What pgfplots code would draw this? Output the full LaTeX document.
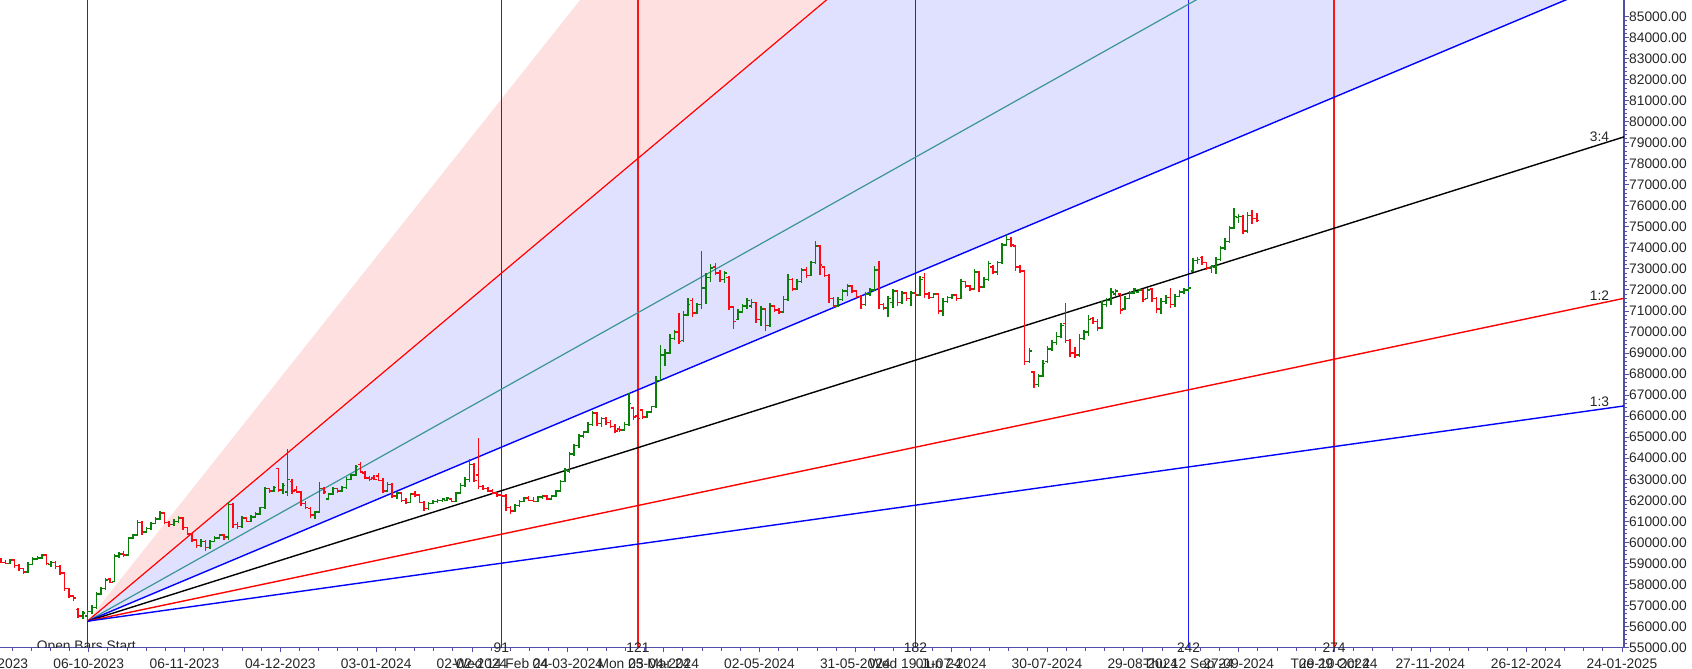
\documentclass[border=0pt]{standalone}
\usepackage{fontspec}
\setmainfont{Liberation Sans}
\usepackage{pgfplots}
\usepackage{pgfplotstable}
\pgfplotsset{compat=1.18}
\definecolor{upc}{RGB}{10,128,10}
\definecolor{dnc}{RGB}{250,10,20}
\definecolor{fanpink}{RGB}{255,224,224}
\definecolor{fanlav}{RGB}{224,224,255}
\definecolor{fanteal}{RGB}{60,150,150}
\definecolor{axblue}{RGB}{80,80,170}
\definecolor{vblue}{RGB}{30,30,255}
\definecolor{vred}{RGB}{255,20,20}
\pgfplotstableread{
i O H L C
-19 59200 59250 59000 59050
-18 59050 59150 58950 59000
-17 59000 59200 58950 59150
-16 59150 59200 58800 58900
-15 58900 58950 58650 58750
-14 58750 58800 58500 58600
-13 58600 59050 58550 58950
-12 58950 59300 58900 59200
-11 59200 59350 59150 59250
-10 59250 59450 59200 59400
-9 59400 59450 58900 59000
-8 58950 59100 58850 59050
-7 59050 59100 58750 58850
-6 58850 58900 58450 58550
-5 58550 58600 57700 57800
-4 57800 57850 57350 57450
-3 57450 57500 57200 57350
-2 56800 56900 56400 56500
-1 56500 56750 56350 56650
0 56500 56800 56250 56700
1 56700 57000 56600 56900
2 56900 57650 56850 57550
3 57550 57900 57500 57800
4 57800 58300 57750 58200
5 58250 58300 58050 58100
6 58150 59450 58100 59350
7 59350 59550 59250 59450
8 59450 59600 59300 59400
9 59400 60250 59350 60200
10 60200 60400 60150 60350
11 60350 61050 60300 60950
12 60950 61000 60350 60500
13 60500 60750 60450 60650
14 60650 60950 60600 60900
15 60900 61200 60850 61100
16 61100 61480 61050 61400
17 61400 61450 60850 60950
18 60950 61000 60750 60850
19 60850 61100 60800 61000
20 61000 61250 60900 61150
21 61150 61200 60600 60700
22 60700 60750 60350 60400
23 60400 60450 60000 60100
24 60100 60150 59750 59850
25 59850 60150 59800 60050
26 60050 60100 59600 59750
27 59750 60100 59700 60050
28 60050 60300 60000 60200
29 60200 60400 60150 60350
30 60350 60400 60100 60250
31 60250 61900 60100 61800
32 61800 61850 60700 60850
33 60850 60950 60650 60750
34 60750 61250 60700 61150
35 61150 61200 60950 61000
36 61000 61300 60950 61200
37 61200 61450 61150 61350
38 61350 61700 61300 61650
39 61650 62650 61600 62550
40 62550 62600 62350 62450
41 62450 62700 62400 62600
42 63500 63550 62400 62500
43 62500 62800 62300 62700
44 62400 64450 62200 63000
45 62900 63000 62300 62450
46 62500 62700 62350 62400
47 62400 62450 61750 61850
48 61850 61950 61600 61650
49 61600 61700 61150 61300
50 61300 61500 61100 61450
51 61450 62850 61400 62550
52 62550 62650 62300 62400
53 62050 62350 62000 62300
54 62300 62650 62250 62550
55 62550 62600 62350 62450
56 62450 62700 62400 62600
57 62600 63100 62550 63000
58 63000 63250 62950 63200
59 63200 63700 63150 63600
60 63700 63800 63300 63350
61 63300 63400 63000 63050
62 63050 63150 62900 63000
63 63050 63200 62950 63000
64 63150 63300 62900 62950
65 62950 63050 62350 62450
66 62450 62850 62400 62750
67 62750 62800 62100 62200
68 62200 62400 62050 62350
69 62350 62400 61900 62000
70 62000 62100 61800 61900
71 61900 62350 61850 62300
72 62300 62450 62150 62250
73 62250 62300 61850 61900
74 61900 61950 61500 61600
75 61600 61900 61550 61850
76 61850 62000 61800 61950
77 61950 62050 61850 62000
78 62000 62100 61900 62050
79 62000 62150 61950 62100
80 62050 62100 61900 61950
81 61950 62400 61900 62350
82 62350 62800 62300 62700
83 62700 63100 62650 63000
84 63000 63950 62850 63700
85 63700 63750 62850 62950
86 63200 64950 62550 62650
87 62650 62750 62500 62550
88 62550 62650 62400 62450
89 62450 62550 62300 62350
90 62350 62400 62150 62250
91 62250 62350 62100 62200
92 62200 62300 61500 61650
93 61650 61750 61350 61500
94 61500 61800 61450 61750
95 61750 62000 61700 61950
96 61950 62150 61900 62100
97 62100 62200 61950 62000
98 62000 62150 61900 61950
99 61950 62200 61900 62150
100 62150 62250 62050 62200
101 62200 62250 62000 62050
102 62050 62250 62000 62200
103 62200 62500 62150 62450
104 62450 62950 62400 62900
105 62900 63550 62850 63450
106 63400 64300 63300 64200
107 64200 64700 64100 64600
108 64600 65150 64500 65050
109 65050 65300 64950 65250
110 65250 65700 65200 65600
111 65600 66250 65550 66150
112 66150 66200 65550 65650
113 65650 65950 65500 65900
114 65900 65950 65600 65700
115 65700 65800 65450 65500
116 65500 65650 65200 65300
117 65400 65550 65250 65350
118 65350 65700 65300 65600
119 65600 67100 65550 66600
120 66400 66450 65800 65950
121 66000 66150 65800 65900
122 66300 66350 65850 65950
123 65950 66250 65900 66200
124 66200 66500 66150 66450
125 66450 67900 66400 67700
126 67700 69400 67650 68900
127 68900 69200 68400 69000
128 69000 69900 68950 69700
129 69700 70100 69600 70000
130 70000 70900 69450 69550
131 69600 71000 69550 70800
132 70800 71600 70750 71300
133 71500 71600 70700 70900
134 70900 71400 70850 71300
135 71300 73850 71100 72100
136 72100 72800 71350 72600
137 72600 73250 72400 73050
138 73100 73300 72700 72800
139 72800 72950 72400 72500
140 72500 72900 72350 72800
141 72600 72650 71050 71200
142 71200 71250 70150 70500
143 70600 71100 70550 70950
144 70950 71350 70900 71250
145 71250 71600 71100 71500
146 71250 71550 71150 71400
147 71400 71450 70450 70600
148 70600 71250 70300 71100
149 71100 71150 70050 70300
150 70300 71400 70250 71250
151 71250 71300 70950 71050
152 71050 71150 70850 70950
153 70950 71700 70900 71550
154 71550 72750 71500 72500
155 72500 72550 71950 72050
156 72050 72500 72000 72400
157 72400 73050 72350 72950
158 72950 73100 72550 72700
159 72700 73400 72650 73300
160 73300 74350 73250 74100
161 74100 74150 72700 73200
162 73100 73150 72600 72700
163 72700 72750 71400 71600
164 71600 71650 71150 71250
165 71250 71650 71200 71550
166 71550 72050 71500 71950
167 71950 72300 71700 72200
168 72200 72250 71850 71950
169 71950 72000 71600 71700
170 71700 71750 71100 71300
171 71300 71900 71250 71800
172 71800 72100 71700 72000
173 72000 73150 71950 72950
174 72950 73400 71100 71300
175 71300 71400 71050 71150
176 71150 71700 70700 71600
177 71400 72050 71150 71950
178 71950 72000 71250 71400
179 71400 71950 71350 71850
180 71850 71900 71500 71600
181 71600 71950 71250 71850
182 71850 71900 71700 71750
183 71750 72650 71700 72500
184 72600 72800 71600 71800
185 71800 71900 71550 71650
186 71650 71850 71600 71800
187 71800 71850 70850 71000
188 71000 71600 70750 71450
189 71450 71700 71400 71650
190 71650 71800 71550 71750
191 71750 71800 71500 71600
192 71600 72500 71550 72400
193 72400 72450 72100 72200
194 72200 72250 71950 72050
195 72050 73000 72000 72850
196 72850 72900 71900 72150
197 72150 72600 72100 72500
198 72500 73400 72450 73250
199 73100 73200 72750 72850
200 72850 73400 72700 73300
201 73300 74250 73250 74150
202 74150 74600 74100 74400
203 74400 74500 74050 74150
204 74100 74150 72900 73100
205 73100 73200 72800 72900
206 72900 72950 68450 68600
207 68600 69250 68550 69100
208 68100 68150 67350 67500
209 67500 68000 67400 67900
210 67900 68650 67850 68500
211 68600 69350 68550 69200
212 69200 69600 69100 69500
213 69500 70000 69400 69800
214 69800 70450 69700 70300
215 70400 71400 69500 69600
216 69600 69650 68800 69000
217 69000 69300 68750 68900
218 68900 69900 68800 69700
219 69700 70100 69600 70000
220 70000 70800 69800 70600
221 70650 70700 70400 70500
222 70500 70600 70050 70200
223 70200 71500 70150 71300
224 71300 71600 71200 71500
225 71500 72100 71300 71900
226 71800 72050 71650 71950
227 71800 71850 70850 71050
228 71100 71700 71050 71600
229 71600 71950 71550 71850
230 71850 72100 71800 72050
231 71900 72050 71850 72000
232 72000 72050 71450 71550
233 71600 72100 71550 72000
234 72050 72100 71450 71600
235 71600 71650 70900 71100
236 71100 71600 70850 71450
237 71450 71750 71350 71650
238 71650 72100 71150 71300
239 71300 71800 71200 71700
240 71700 72000 71650 71900
241 71900 72100 71800 72000
242 72000 72150 71900 72100
243 72900 73500 72850 73400
244 73400 73550 73250 73450
245 73550 73600 73200 73300
246 73300 73350 72950 73050
247 73050 73200 72800 73150
248 73100 73550 72750 73450
249 73450 74100 73400 74000
250 74000 74450 73900 74300
251 74300 75050 74250 74950
252 74950 75900 74900 75500
253 75450 75600 75200 75500
254 75500 75550 74650 74800
255 74800 75700 74700 75550
256 75550 75800 75150 75400
257 75400 75650 75250 75300
}\ohlc
\newcommand{\lblfont}{\fontsize{6.9}{8}\selectfont}
\begin{document}
\begin{tikzpicture}
\begin{axis}[
  at={(0,0)}, anchor=south west,
  scale only axis, width=812pt, height=323.75pt,
  xmin=-19.19, xmax=337.7, ymin=55000, ymax=85790,
  axis x line=bottom, axis y line=right,
  axis line style={axblue, line width=0.8pt, -},
  tick align=outside,
  major tick length=2.4pt, minor tick length=1.5pt,
  every tick/.style={axblue, line width=0.5pt},
  xtick={-20.76,0.3,21.36,42.42,63.48,84.54,105.6,126.66,147.72,168.78,189.84,210.9,231.96,253.02,274.08,295.14,316.2,337.26},
  xticklabels={06-09-2023,06-10-2023,06-11-2023,04-12-2023,03-01-2024,02-02-2024,04-03-2024,03-04-2024,02-05-2024,31-05-2024,01-07-2024,30-07-2024,29-08-2024,27-09-2024,29-10-2024,27-11-2024,26-12-2024,24-01-2025},
  minor x tick num=4,
  ytick={55000,56000,...,85000}, minor y tick num=4,
  scaled y ticks=false,
  tick label style={font=\lblfont, text=black!85},
  /pgf/number format/assume math mode=true,
  yticklabel style={/pgf/number format/fixed, /pgf/number format/fixed zerofill, /pgf/number format/precision=2, /pgf/number format/1000 sep={}, anchor=west, inner sep=0pt},
  xticklabel style={anchor=base, inner sep=0pt, yshift=-8pt},
  clip=true,
]
% fan fills
\addplot[fill=fanpink, draw=none, forget plot] coordinates {(0,56250) (340,149002) (340,118085)} -- cycle;
\addplot[fill=fanlav, draw=none, forget plot] coordinates {(0,56250) (340,118085) (340,87167)} -- cycle;
% vertical time lines
\addplot[vblue, line width=0.8pt, forget plot] coordinates {(0,55000) (0,85790)};
\addplot[vblue, line width=0.8pt, forget plot] coordinates {(91,55000) (91,85790)};
\addplot[vred, line width=0.8pt, forget plot] coordinates {(121,55000) (121,85790)};
\addplot[vblue, line width=0.8pt, forget plot] coordinates {(182,55000) (182,85790)};
\addplot[vblue, line width=0.8pt, forget plot] coordinates {(242,55000) (242,85790)};
\addplot[vred, line width=0.8pt, forget plot] coordinates {(274,55000) (274,85790)};
% fan lines
\addplot[red, line width=0.6pt, forget plot] coordinates {(0,56250) (340,118085)};
\addplot[fanteal, line width=0.6pt, forget plot] coordinates {(0,56250) (340,97472)};
\addplot[blue, line width=0.7pt, forget plot] coordinates {(0,56250) (340,87167)};
\addplot[black, line width=0.7pt, forget plot] coordinates {(0,56250) (340,79438)};
\addplot[red, line width=0.7pt, forget plot] coordinates {(0,56250) (340,71709)};
\addplot[blue, line width=0.7pt, forget plot] coordinates {(0,56250) (340,66556)};
% OHLC up bars
\addplot[draw=none, forget plot, restrict expr to domain={\thisrow{C}-\thisrow{O}}{0:100000},
  error bars/.cd, y dir=plus, y explicit, error mark=none, error bar style={draw=upc, line width=0.75pt}]
  table[x=i, y=L, y error expr=\thisrow{H}-\thisrow{L}] {\ohlc};
\addplot[draw=none, forget plot, restrict expr to domain={\thisrow{C}-\thisrow{O}}{0:100000},
  error bars/.cd, x dir=minus, x fixed=0.55, error mark=none, error bar style={draw=upc, line width=0.75pt}]
  table[x=i, y=O] {\ohlc};
\addplot[draw=none, forget plot, restrict expr to domain={\thisrow{C}-\thisrow{O}}{0:100000},
  error bars/.cd, x dir=plus, x fixed=0.55, error mark=none, error bar style={draw=upc, line width=0.75pt}]
  table[x=i, y=C] {\ohlc};
% OHLC down bars
\addplot[draw=none, forget plot, restrict expr to domain={\thisrow{O}-\thisrow{C}}{1:100000},
  error bars/.cd, y dir=plus, y explicit, error mark=none, error bar style={draw=dnc, line width=0.75pt}]
  table[x=i, y=L, y error expr=\thisrow{H}-\thisrow{L}] {\ohlc};
\addplot[draw=none, forget plot, restrict expr to domain={\thisrow{O}-\thisrow{C}}{1:100000},
  error bars/.cd, x dir=minus, x fixed=0.55, error mark=none, error bar style={draw=dnc, line width=0.75pt}]
  table[x=i, y=O] {\ohlc};
\addplot[draw=none, forget plot, restrict expr to domain={\thisrow{O}-\thisrow{C}}{1:100000},
  error bars/.cd, x dir=plus, x fixed=0.55, error mark=none, error bar style={draw=dnc, line width=0.75pt}]
  table[x=i, y=C] {\ohlc};
\coordinate (c0) at (axis cs:0,55000);
\coordinate (c91) at (axis cs:91,55000);
\coordinate (c121) at (axis cs:121,55000);
\coordinate (c182) at (axis cs:182,55000);
\coordinate (c242) at (axis cs:242,55000);
\coordinate (c274) at (axis cs:274,55000);
\coordinate (cm1) at (axis cs:-20.76,55000);
\coordinate (l34) at (axis cs:332.3,78913);
\coordinate (l12) at (axis cs:332.3,71360);
\coordinate (l13) at (axis cs:332.3,66322);
\end{axis}
\begin{scope}
\clip (0,0) rectangle (812pt,323.75pt);
\node[font=\lblfont, text=black!85, inner sep=0pt] at ([xshift=-0.5pt]c0) {Open Bars Start};
\end{scope}
\foreach \c/\t in {c91/91, c121/121, c182/182, c242/242, c274/274}{
  \node[font=\lblfont, text=black!85, inner sep=0pt] at (\c) {\t};
}
\node[font=\lblfont, text=black!85, inner sep=0pt, anchor=base] at ([yshift=-10.4pt]cm1) {06-09-2023};
\node[font=\lblfont, text=black!85, inner sep=0pt, anchor=base] at ([yshift=-10.4pt]c91) {Wed 14 Feb 24};
\node[font=\lblfont, text=black!85, inner sep=0pt, anchor=base] at ([yshift=-10.4pt,xshift=3pt]c121) {Mon 25 Mar 24};
\node[font=\lblfont, text=black!85, inner sep=0pt, anchor=base] at ([yshift=-10.4pt]c182) {Wed 19 Jun 24};
\node[font=\lblfont, text=black!85, inner sep=0pt, anchor=base] at ([yshift=-10.4pt]c242) {Thu 12 Sep 24};
\node[font=\lblfont, text=black!85, inner sep=0pt, anchor=base] at ([yshift=-10.4pt]c274) {Tue 29 Oct 24};
\node[font=\lblfont, text=black!85, inner sep=0pt, anchor=base] at ([yshift=1.5pt]l34) {3:4};
\node[font=\lblfont, text=black!85, inner sep=0pt, anchor=base] at ([yshift=1.5pt]l12) {1:2};
\node[font=\lblfont, text=black!85, inner sep=0pt, anchor=base] at ([yshift=1.5pt]l13) {1:3};
\pgfresetboundingbox
\useasboundingbox (0,-10.75pt) rectangle (846pt,323.75pt);
\end{tikzpicture}
\end{document}
